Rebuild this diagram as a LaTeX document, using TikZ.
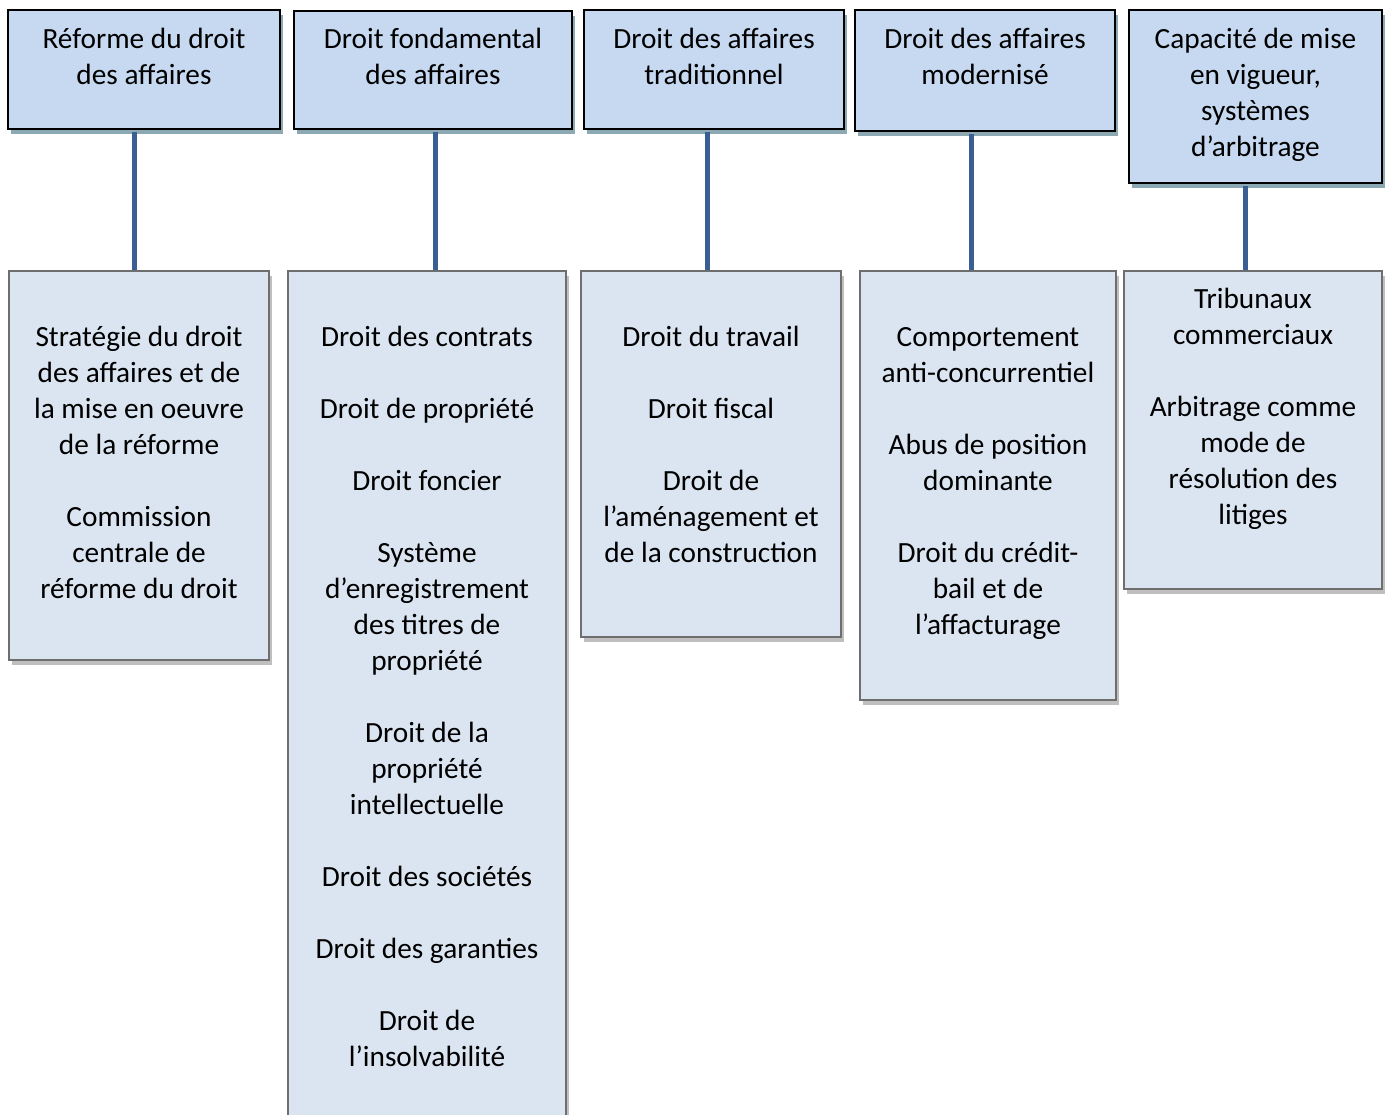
\documentclass[tikz,border=0pt]{standalone}
\usepackage{fontspec}
\setmainfont{Carlito}
\usetikzlibrary{shadows,calc}
\definecolor{topfill}{RGB}{198,217,241}
\definecolor{botfill}{RGB}{219,229,241}
\definecolor{topshadow}{RGB}{140,168,178}
\definecolor{botshadow}{RGB}{191,191,191}
\definecolor{botborder}{RGB}{110,110,110}
\definecolor{linkcol}{RGB}{58,95,148}
\newcommand{\fr}{\rule{0pt}{26pt}}
\begin{document}
\begin{tikzpicture}[x=1pt,y=-1pt,
  topbox/.style={draw=black,line width=2.8pt,fill=topfill,inner sep=0pt,
    general shadow={shadow xshift=3pt,shadow yshift=-5pt,fill=topshadow}},
  botbox/.style={draw=botborder,line width=2.6pt,fill=botfill,inner sep=0pt,
    general shadow={shadow xshift=3pt,shadow yshift=-5pt,fill=botshadow}},
  txt/.style={anchor=north,inner sep=0pt,align=center,font=\fontsize{29.3}{36}\selectfont},
  link/.style={draw=linkcol,line width=5pt}]
\clip (0,0) rectangle (1390,1115);
\fill[white] (0,0) rectangle (1390,1115);
% top boxes
\node[topbox,minimum width=272pt,minimum height=119pt] (t1) at (144,69.5) {};
\node[topbox,minimum width=278pt,minimum height=118pt] (t2) at (433,70) {};
\node[topbox,minimum width=260pt,minimum height=119pt] (t3) at (714,69.5) {};
\node[topbox,minimum width=260pt,minimum height=121pt] (t4) at (985,70.5) {};
\node[topbox,minimum width=253pt,minimum height=173pt] (t5) at (1255.5,96.5) {};
% bottom boxes
\node[botbox,minimum width=260pt,minimum height=389pt] (b1) at (139,465.5) {};
\node[botbox,minimum width=278pt,minimum height=859pt] (b2) at (427,700.5) {};
\node[botbox,minimum width=260pt,minimum height=366pt] (b3) at (711,454) {};
\node[botbox,minimum width=256pt,minimum height=429pt] (b4) at (988,485.5) {};
\node[botbox,minimum width=258pt,minimum height=318pt] (b5) at (1253,430) {};
% connectors
\coordinate (c1) at (134,0);
\coordinate (c2) at (435,0);
\coordinate (c3) at (707,0);
\coordinate (c4) at (971,0);
\coordinate (c5) at (1245,0);
\draw[link] ([yshift=-1.4pt]t1.south -| c1) -- (b1.north -| c1);
\draw[link] ([yshift=-1.4pt]t2.south -| c2) -- (b2.north -| c2);
\draw[link] ([yshift=-1.4pt]t3.south -| c3) -- (b3.north -| c3);
\draw[link] ([yshift=-1.4pt]t4.south -| c4) -- (b4.north -| c4);
\draw[link] ([yshift=-1.4pt]t5.south -| c5) -- (b5.north -| c5);
% top texts
\node[txt] (tt1) at (144,22) {\fr Réforme du droit\\des affaires};
\node[txt] (tt2) at (433,22) {\fr Droit fondamental\\des affaires};
\node[txt] (tt3) at (714,22) {\fr Droit des affaires\\traditionnel};
\node[txt] (tt4) at (985,22) {\fr Droit des affaires\\modernisé};
\node[txt] (tt5) at (1255.5,22) {\fr Capacité de mise\\en vigueur,\\systèmes\\d’arbitrage};
% bottom texts
\node[txt] (bt1) at (139,320) {\fr Stratégie du droit\\des affaires et de\\la mise en oeuvre\\de la réforme\\[36pt]Commission\\centrale de\\réforme du droit};
\node[txt] (bt2) at (427,320) {\fr Droit des contrats\\[36pt]Droit de propriété\\[36pt]Droit foncier\\[36pt]Système\\d’enregistrement\\des titres de\\propriété\\[36pt]Droit de la\\propriété\\intellectuelle\\[36pt]Droit des sociétés\\[36pt]Droit des garanties\\[36pt]Droit de\\l’insolvabilité};
\node[txt] (bt3) at (711,320) {\fr Droit du travail\\[36pt]Droit fiscal\\[36pt]Droit de\\l’aménagement et\\de la construction};
\node[txt] (bt4) at (988,320) {\fr Comportement\\anti-concurrentiel\\[36pt]Abus de position\\dominante\\[36pt]Droit du crédit-\\bail et de\\l’affacturage};
\node[txt] (bt5) at (1253,282) {\fr Tribunaux\\commerciaux\\[36pt]Arbitrage comme\\mode de\\résolution des\\litiges};
\end{tikzpicture}
\end{document}
